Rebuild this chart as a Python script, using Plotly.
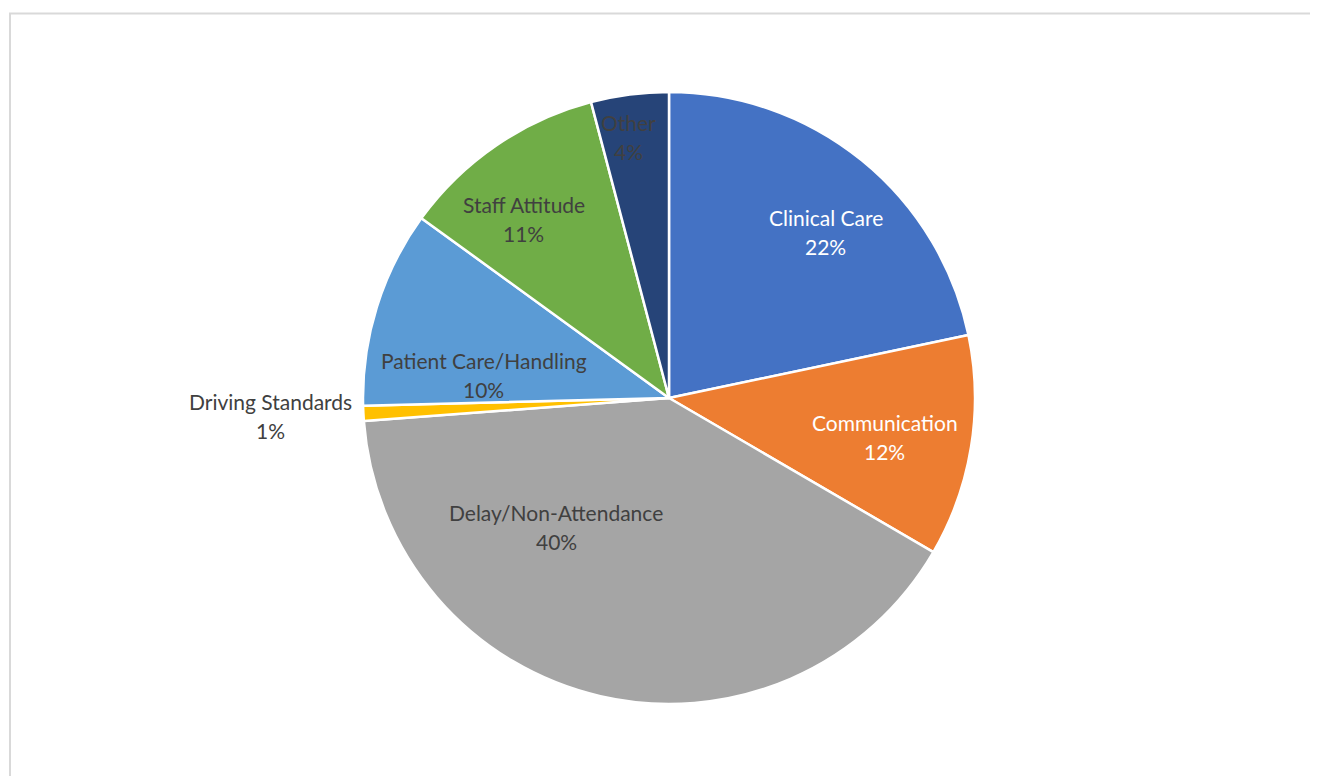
import math
import plotly.graph_objects as go

categories = ["Clinical Care", "Communication", "Delay/Non-Attendance", "Driving Standards",
              "Patient Care/Handling", "Staff Attitude", "Other"]
values = [21.7, 11.7, 40.4, 0.8, 10.4, 10.9, 4.1]
colors = ["#4472C4", "#ED7D31", "#A5A5A5", "#FFC000", "#5B9BD5", "#70AD47", "#264478"]
text_colors = ["#FFFFFF", "#FFFFFF", "#404040", "#404040", "#404040", "#404040", "#404040"]
# label placement style: angular shift from slice middle (deg) and radial fraction
label_shift = [4.3, 1.0, 28.2, 0.3, -10.2, -4.7, -1.5]
label_radius = [0.747, 0.717, 0.56, 1.305, 0.61, 0.754, 0.862]

# page body has an 8px margin, so the figure is offset by 8px
OFF = 8
W, H = 1318 - OFF, 776 - OFF
cx, cy, R = 669 - OFF, 398 - OFF, 306

fig = go.Figure()
fig.add_trace(go.Pie(
    labels=categories, values=values, sort=False, direction="clockwise", rotation=0,
    marker=dict(colors=colors, line=dict(color="#FFFFFF", width=2.5)),
    textinfo="none", hoverinfo="label+percent", showlegend=False,
    domain=dict(x=[(cx - R) / W, (cx + R) / W], y=[(H - cy - R) / H, (H - cy + R) / H]),
))

total = sum(values)
cum = 0.0
font_family = "Lato, 'Open Sans', sans-serif"
for i, (name, v) in enumerate(zip(categories, values)):
    mid = (cum + v / 2) / total * 360.0
    cum += v
    ang = math.radians(mid + label_shift[i])
    r = R * label_radius[i]
    px = cx + r * math.sin(ang)
    py = cy - r * math.cos(ang)
    pct = f"{round(v / total * 100):d}%"
    for txt, shift in ((name, 14.5), (pct, -14.5)):
        fig.add_annotation(x=px / W, y=1 - py / H, xref="paper", yref="paper",
                           text=txt, showarrow=False, yshift=shift,
                           xanchor="center", yanchor="middle",
                           font=dict(family=font_family, size=21, color=text_colors[i]))

fig.add_shape(type="rect", xref="paper", yref="paper",
              x0=(10 - OFF) / W, x1=1.05, y0=-0.05, y1=1 - (13.5 - OFF) / H,
              line=dict(color="#D9D9D9", width=2), fillcolor="rgba(0,0,0,0)", layer="below")

fig.update_layout(width=W, height=H, margin=dict(l=0, r=0, t=0, b=0),
                  paper_bgcolor="#FFFFFF", plot_bgcolor="#FFFFFF")
fig.write_html("out.html")
